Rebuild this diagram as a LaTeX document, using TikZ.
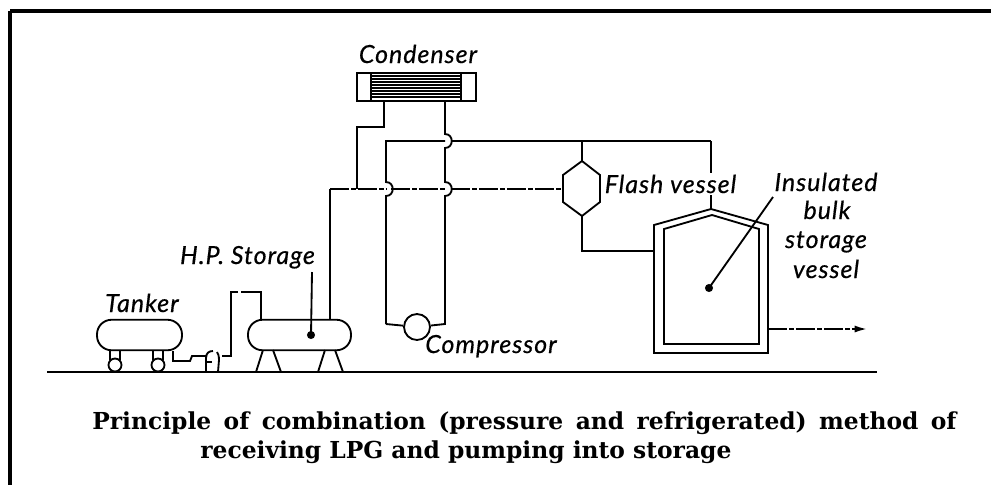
\documentclass[tikz,border=0pt]{standalone}
\usepackage{fontspec}
\usepackage{tikz}
\usetikzlibrary{calc, positioning, arrows.meta}
\newfontfamily\tagfont[LetterSpace=4,FakeBold=0.5]{Lato}
\newfontfamily\capfont{DejaVu Serif}
\tikzset{
  pipe/.style={line width=1.05pt},
  chain/.style={line width=1.05pt, dash pattern=on 11pt off 1.2pt on 2.5pt off 1.2pt},
  hopr/.style={to path={.. controls +(9,0) and +(9,0) .. (\tikztotarget)}},
  tank/.style={draw, line width=1.05pt, rounded corners=0.29cm, minimum height=0.61cm, inner sep=0pt},
  wheel/.style={draw, circle, line width=1.05pt, minimum size=0.26cm, inner sep=0pt},
  tag/.style={font=\fontsize{14.2}{16}\selectfont\tagfont\itshape, inner sep=0pt},
  caption/.style={font=\fontsize{13.3}{16}\selectfont\capfont\bfseries, inner sep=0pt, anchor=base west}
}
\begin{document}
\begin{tikzpicture}[x=0.02cm, y=-0.02cm]
  \useasboundingbox (0,0) rectangle (991,485);
  % page frame
  \coordinate (framecorner) at (10,11);
  \draw[line width=1.9pt] (framecorner) -- (991,11);
  \draw[line width=2.2pt] (framecorner) -- (10,485);
  % ground
  \coordinate (groundl) at (47,372);
  \coordinate (groundr) at (877,372);
  \draw[line width=1.3pt] (groundl) -- (groundr);
  % condenser
  \node[draw, pipe, minimum width=2.38cm, minimum height=0.56cm, inner sep=0pt] (condenser) at (416.5,87) {};
  \draw[line width=1.6pt] (371,73) rectangle (461,101);
  \foreach \yy in {76,79,...,98} {
    \draw[line width=0.7pt] (371,\yy) -- (461,\yy);
  }
  % tanker and storage
  \node[tank, minimum width=1.7cm] (tanker) at (139.5,335) {};
  \node[tank, minimum width=2.06cm] (storage) at (299.5,335) {};
  \foreach \xx/\nm in {115/wheela, 158/wheelb} {
    \node[wheel] (\nm) at (\xx,365) {};
    \draw[pipe] (\xx-5,351) -- (\xx-5,360);
    \draw[pipe] (\xx+5,351) -- (\xx+5,360);
  }
  \foreach \xx in {256,318} {
    \draw[pipe] (\xx,372) -- (\xx+7,350);
    \draw[pipe] (\xx+25,372) -- (\xx+17,350);
  }
  % pump
  \coordinate (pumpin) at (207,356);
  \coordinate (pumpout) at (222,356);
  \draw[pipe] (206,372) -- (206,358) .. controls (206,353) and (209,351) .. (213,351);
  \draw[pipe] (218,372) -- (219,360) .. controls (219,356) and (218,353) .. (217,352);
  \draw[pipe] (207,362) -- (212,362);
  \draw[pipe] (173,351) -- (173,361) -- (190,361) -- (192,356) -- (pumpin);
  \draw[pipe] (pumpout) -- (231,356) -- (231,292) -- (238,292);
  \draw[pipe] (241,292) -- (261,292) -- (261,320);
  % compressor
  \node[wheel, minimum size=0.52cm] (compressor) at (417,327) {};
  % flash vessel and bulk vessel
  \coordinate (flashtop) at (582,161);
  \coordinate (flashbot) at (582,216);
  \coordinate (flashleft) at (563,189);
  \draw[pipe] (flashtop) -- (600,175) -- (600,202) -- (flashbot) -- (563,202) -- (563,175) -- cycle;
  \coordinate (bulkpeak) at (711,209);
  \coordinate (bulkleft) at (654,251);
  \coordinate (bulkright) at (768,329);
  \draw[pipe] (bulkpeak) -- (768,225) -- (768,353) -- (654,353) -- (654,225) -- cycle;
  \draw[pipe] (712,215) -- (759,229) -- (759,344) -- (664,344) -- (664,229) -- cycle;
  % pipework
  \draw[pipe] (384,101) -- (384,127) -- (357,127) -- (357,189);
  \draw[pipe] (445,101) -- (445,134) to[hopr] (445,148) -- (445,182) to[hopr] (445,196) -- (445,324) -- (compressor);
  \draw[pipe] (386,324) -- (compressor);
  \draw[pipe] (386,324) -- (386,196) to[hopr] (386,182) -- (386,141) -- (445,141);
  \draw[pipe] (451,141) -- (711,141);
  \draw[pipe] (582,141) -- (flashtop);
  \draw[pipe] (711,141) -- (bulkpeak);
  \draw[pipe] (flashbot) -- (582,251) -- (bulkleft);
  \draw[pipe] (330,189) -- (330,320);
  \draw[chain] (330,189) -- (386,189);
  \draw[chain] (391,189) -- (445,189);
  \draw[chain] (451,189) -- (flashleft);
  \coordinate (outlet) at (867,329);
  \draw[chain, -{Latex[length=7pt,width=4pt]}] (bulkright) -- (outlet);
  % labels
  \node[tag, anchor=base] (condenserlab) at (418,63) {Condenser};
  \node[tag, anchor=base] (tankerlab) at (142,312) {Tanker};
  \node[tag, anchor=base] (storagelab) at (247.5,264) {H.P. Storage};
  \node[tag, anchor=base] (compressorlab) at (491,353) {Compressor};
  \node[tag, anchor=base, fill=white, inner sep=1pt] (flashlab) at (670.5,193) {Flash vessel};
  \node[tag, anchor=base] (bulka) at (826,191) {Insulated};
  \node[tag, anchor=base] (bulkb) at (827,219) {bulk};
  \node[tag, anchor=base] (bulkc) at (826,248) {storage};
  \node[tag, anchor=base] (bulkd) at (826,278) {vessel};
  % leaders
  \coordinate (storagedot) at (311,335);
  \coordinate (bulkdot) at (709,288);
  \fill (storagedot) circle (2.3pt);
  \fill (bulkdot) circle (2.3pt);
  \draw[pipe] (312,272) -- (storagedot);
  \draw[pipe] (773,197) -- (bulkdot);
  % caption
  \node[caption] (captiona) at (92,429) {\spaceskip=7.07pt Principle of combination (pressure and refrigerated) method of};
  \node[caption] (captionb) at (200,458) {receiving LPG and pumping into storage};
\end{tikzpicture}
\end{document}
